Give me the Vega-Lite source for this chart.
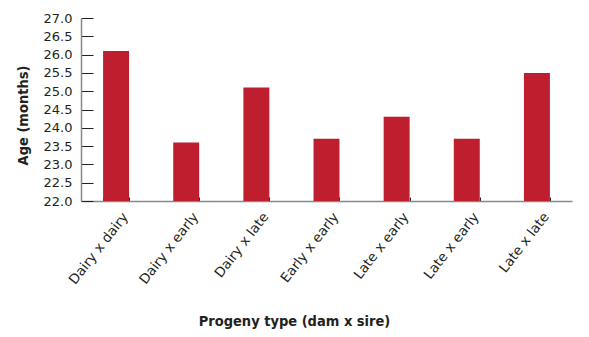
{
  "$schema": "https://vega.github.io/schema/vega-lite/v6.json",
  "autosize": {"type": "none"},
  "padding": {"left": 81, "top": 18, "right": 17, "bottom": 136},
  "width": 491,
  "height": 183,
  "background": "white",
  "data": {"values": [
    {"order": 1, "type": "Dairy x dairy", "age": 26.1},
    {"order": 2, "type": "Dairy x early", "age": 23.6},
    {"order": 3, "type": "Dairy x late", "age": 25.1},
    {"order": 4, "type": "Early x early", "age": 23.7},
    {"order": 5, "type": "Late x early", "age": 24.3},
    {"order": 6, "type": "Late x early ", "age": 23.7},
    {"order": 7, "type": "Late x late", "age": 25.5}
  ]},
  "mark": {"type": "bar", "color": "#BE1E2D", "clip": true},
  "encoding": {
    "x": {
      "field": "type", "type": "nominal",
      "sort": {"field": "order"},
      "scale": {"paddingInner": 0.63, "paddingOuter": 0.315},
      "axis": {
        "title": "Progeny type (dam x sire)",
        "titleFont": "DejaVu Sans Condensed, Roboto", "titleFontSize": 14.5, "titleFontWeight": "bold", "titleColor": "#231f20",
        "titleX": 213, "titleY": 124, "titleBaseline": "alphabetic", "titleAnchor": "middle", "titleAlign": "center",
        "labelExpr": "trim(datum.label)",
        "labelAngle": -52, "labelFont": "DejaVu Sans", "labelFontSize": 13.5, "labelColor": "#231f20",
        "labelPadding": 17, "labelOffset": 9,
        "tickBand": "extent", "tickSize": -4, "tickColor": "#231f20", "tickWidth": 1,
        "domainColor": "#888888", "domainWidth": 1.5
      }
    },
    "y": {
      "field": "age", "type": "quantitative",
      "scale": {"domain": [22, 27], "zero": false, "nice": false},
      "axis": {
        "title": "Age (months)",
        "titleFont": "DejaVu Sans Condensed, Roboto", "titleFontSize": 14.5, "titleFontWeight": "bold", "titleColor": "#231f20",
        "titleAngle": -90, "titleX": -54, "titleY": 97, "titleBaseline": "alphabetic", "titleAlign": "center", "titleAnchor": "middle",
        "values": [22, 22.5, 23, 23.5, 24, 24.5, 25, 25.5, 26, 26.5, 27],
        "format": ".1f",
        "labelFont": "DejaVu Sans", "labelFontSize": 13, "labelColor": "#231f20",
        "labelPadding": 21,
        "tickSize": -12, "tickColor": "#231f20", "tickWidth": 1,
        "domainColor": "#888888", "domainWidth": 1.5,
        "grid": false
      }
    }
  },
  "config": {"view": {"stroke": null}}
}
